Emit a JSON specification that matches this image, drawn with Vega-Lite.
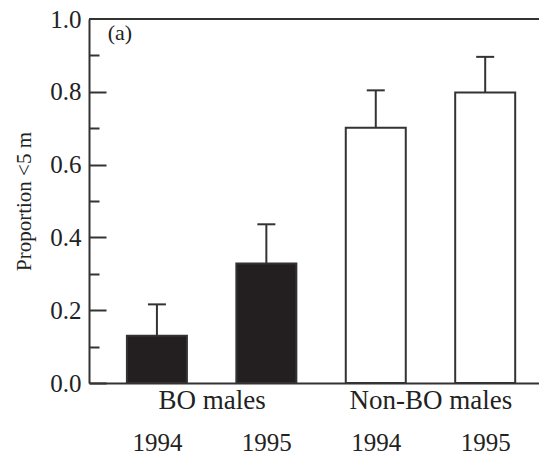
{
  "$schema": "https://vega.github.io/schema/vega-lite/v6.json",
  "width": 450,
  "height": 364,
  "autosize": {"type": "none"},
  "padding": {"left": 89, "top": 19, "right": 0, "bottom": 72},
  "background": "white",
  "config": {"view": {"stroke": null}, "font": "Liberation Serif"},
  "resolve": {"axis": {"y": "independent"}},
  "data": {"values": [
    {"bar": 1, "group": "BO males", "year": "1994", "proportion": 0.13, "upper": 0.216},
    {"bar": 2, "group": "BO males", "year": "1995", "proportion": 0.328, "upper": 0.436},
    {"bar": 3, "group": "Non-BO males", "year": "1994", "proportion": 0.701, "upper": 0.804},
    {"bar": 4, "group": "Non-BO males", "year": "1995", "proportion": 0.798, "upper": 0.896}
  ]},
  "layer": [
    {
      "mark": {"type": "bar", "size": 60, "stroke": "#333333", "strokeWidth": 2},
      "encoding": {
        "x": {
          "field": "bar", "type": "quantitative",
          "scale": {"domain": [0.425, 4.446], "nice": false, "zero": false},
          "axis": {
            "values": [1, 1.5, 2, 3, 3.5, 4],
            "labelExpr": "datum.value == 1.5 ? 'BO males' : datum.value == 3.5 ? 'Non-BO males' : (datum.value == 1 || datum.value == 3) ? '1994' : '1995'",
            "ticks": false,
            "grid": false,
            "title": null,
            "domainColor": "#333333",
            "domainWidth": 2,
            "labelFont": "Liberation Serif",
            "labelColor": "#222222",
            "labelFontSize": {"condition": {"test": "datum.value % 1 != 0", "value": 27}, "value": 25},
            "labelPadding": {"condition": {"test": "datum.value % 1 != 0", "value": 4}, "value": 47},
            "labelOverlap": false,
            "labelBound": false,
            "labelFlush": false
          }
        },
        "y": {
          "field": "proportion", "type": "quantitative",
          "scale": {"domain": [0, 1], "nice": false},
          "title": "Proportion <5 m",
          "axis": {
            "values": [0, 0.2, 0.4, 0.6, 0.8, 1.0],
            "format": ".1f",
            "ticks": false,
            "domainColor": "#333333",
            "domainWidth": 2,
            "grid": false,
            "labelFont": "Liberation Serif",
            "labelFontSize": 25,
            "labelColor": "#222222",
            "labelPadding": 8,
            "labelOverlap": false,
            "labelBound": false,
            "labelFlush": false,
            "titleFont": "Liberation Serif",
            "titleFontSize": 21,
            "titleFontWeight": "normal",
            "titleColor": "#222222",
            "titlePadding": 15
          }
        },
        "fill": {
          "field": "group", "type": "nominal",
          "scale": {"domain": ["BO males", "Non-BO males"], "range": ["#231f20", "#ffffff"]},
          "legend": null
        }
      }
    },
    {
      "mark": {"type": "rule", "color": "#333333", "strokeWidth": 2},
      "encoding": {
        "x": {"field": "bar", "type": "quantitative"},
        "y": {
          "field": "proportion", "type": "quantitative",
          "axis": {
            "orient": "right", "offset": -450,
            "values": [0, 0.2, 0.4, 0.6, 0.8],
            "labels": false, "domain": false, "grid": false, "title": null,
            "tickSize": 17, "tickWidth": 2, "tickColor": "#333333"
          }
        },
        "y2": {"field": "upper"}
      }
    },
    {
      "mark": {"type": "tick", "orient": "horizontal", "size": 18, "thickness": 2, "color": "#333333", "opacity": 1},
      "encoding": {
        "x": {"field": "bar", "type": "quantitative"},
        "y": {
          "field": "upper", "type": "quantitative",
          "axis": {
            "orient": "right", "offset": -450,
            "values": [0.1, 0.3, 0.5, 0.7, 0.9],
            "labels": false, "domain": false, "grid": false, "title": null,
            "tickSize": 10, "tickWidth": 2, "tickColor": "#333333"
          }
        }
      }
    },
    {
      "data": {"values": [{"top": 1}]},
      "mark": {"type": "rule", "color": "#333333", "strokeWidth": 2},
      "encoding": {
        "y": {"field": "top", "type": "quantitative", "axis": null}
      }
    },
    {
      "data": {"values": [{"label": "(a)"}]},
      "mark": {"type": "text", "align": "left", "baseline": "top", "fontSize": 22, "font": "Liberation Serif", "color": "#222222"},
      "encoding": {
        "text": {"field": "label"},
        "x": {"datum": 0.55, "type": "quantitative"},
        "y": {"datum": 0.99, "type": "quantitative", "axis": null}
      }
    }
  ]
}
